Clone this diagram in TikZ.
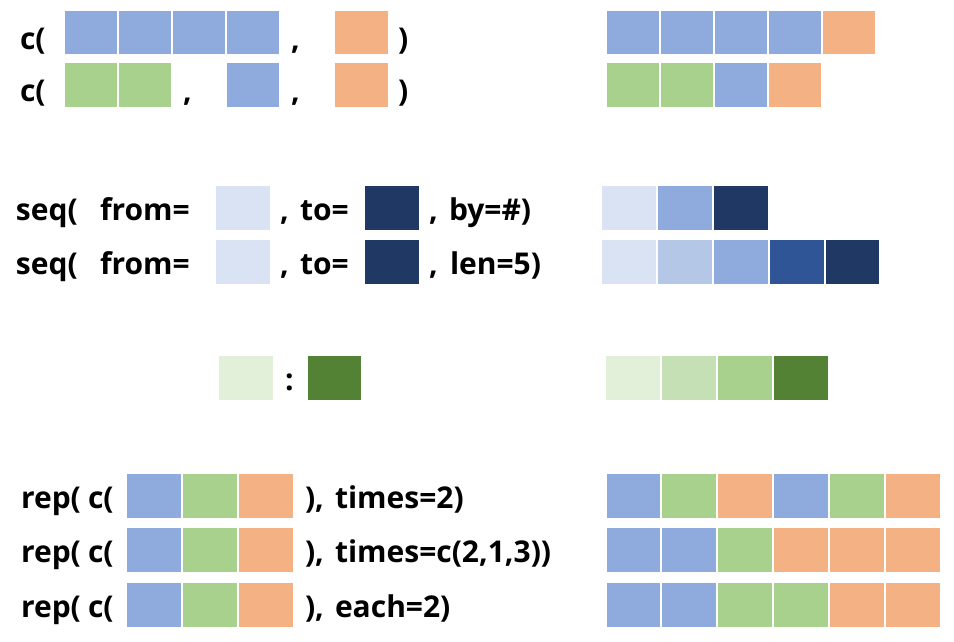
\documentclass[tikz,border=0pt]{standalone}
\usepackage{fontspec}
\setmainfont{Open Sans}
\newfontfamily\bfont[BoldFont={Open Sans Bold}]{Open Sans}
\definecolor{cblue}{HTML}{8FAADC}
\definecolor{cgreen}{HTML}{A9D18E}
\definecolor{corange}{HTML}{F4B183}
\definecolor{bone}{HTML}{DAE3F3}
\definecolor{btwo}{HTML}{B4C7E7}
\definecolor{bfour}{HTML}{2F5597}
\definecolor{bfive}{HTML}{203864}
\definecolor{gone}{HTML}{E2F0D9}
\definecolor{gtwo}{HTML}{C5E0B4}
\definecolor{gfour}{HTML}{548235}
\tikzset{
  cell/.style={anchor=north west, inner sep=0pt, outer sep=0pt, minimum height=44pt, minimum width=54pt},
  txt/.style={anchor=base west, inner sep=0pt, outer sep=0pt, font=\fontsize{30}{36}\selectfont\bfont\bfseries}
}
\begin{document}
\begin{tikzpicture}[x=1pt,y=-1pt]
\useasboundingbox (0,0) rectangle (954,641);
% ---- row 1: c( ----
\node[txt] (t1a) at (20,49) {c(};
\node[cell,minimum width=52pt,minimum height=43pt,fill=cblue] (a1) at (65,11) {};
\node[cell,minimum width=52pt,minimum height=43pt,fill=cblue] (a2) at (119,11) {};
\node[cell,minimum width=52pt,minimum height=43pt,fill=cblue] (a3) at (173,11) {};
\node[cell,minimum width=52pt,minimum height=43pt,fill=cblue] (a4) at (227,11) {};
\node[txt] (t1b) at (291,49) {,};
\node[cell,minimum width=53pt,minimum height=43pt,fill=corange] (a5) at (335,11) {};
\node[txt] (t1c) at (398,49) {)};
\node[cell,minimum width=52pt,minimum height=43pt,fill=cblue] (ra1) at (607,11) {};
\node[cell,minimum width=52pt,minimum height=43pt,fill=cblue] (ra2) at (661,11) {};
\node[cell,minimum width=52pt,minimum height=43pt,fill=cblue] (ra3) at (715,11) {};
\node[cell,minimum width=52pt,minimum height=43pt,fill=cblue] (ra4) at (769,11) {};
\node[cell,minimum width=52pt,minimum height=43pt,fill=corange] (ra5) at (823,11) {};
% ---- row 2: c( ----
\node[txt] (t2a) at (20,101) {c(};
\node[cell,minimum width=52pt,fill=cgreen] (b1) at (65,63) {};
\node[cell,minimum width=52pt,fill=cgreen] (b2) at (119,63) {};
\node[txt] (t2b) at (183,101) {,};
\node[cell,minimum width=52pt,fill=cblue] (b3) at (227,63) {};
\node[txt] (t2c) at (291,101) {,};
\node[cell,minimum width=53pt,fill=corange] (b4) at (335,63) {};
\node[txt] (t2d) at (398,101) {)};
\node[cell,minimum width=52pt,fill=cgreen] (rb1) at (607,63) {};
\node[cell,minimum width=52pt,fill=cgreen] (rb2) at (661,63) {};
\node[cell,minimum width=52pt,fill=cblue] (rb3) at (715,63) {};
\node[cell,minimum width=52pt,fill=corange] (rb4) at (769,63) {};
% ---- seq rows ----
\node[txt] (s1a) at (16,220) {seq(};
\node[txt] (s1b) at (100,220) {from=};
\node[cell,fill=bone] (c1) at (216,186) {};
\node[txt] (s1c) at (280,220) {,};
\node[txt] (s1e) at (300,220) {to=};
\node[cell,fill=bfive] (c2) at (365,186) {};
\node[txt] (s1d) at (429,220) {,};
\node[txt] (s1f) at (449,220) {by=\#)};
\node[cell,fill=bone] (rc1) at (602,186) {};
\node[cell,fill=cblue] (rc2) at (658,186) {};
\node[cell,fill=bfive] (rc3) at (714,186) {};
\node[txt] (s2a) at (16,274) {seq(};
\node[txt] (s2b) at (100,274) {from=};
\node[cell,fill=bone] (d1) at (216,240) {};
\node[txt] (s2c) at (280,274) {,};
\node[txt] (s2e) at (300,274) {to=};
\node[cell,fill=bfive] (d2) at (365,240) {};
\node[txt] (s2d) at (429,274) {,};
\node[txt] (s2f) at (450,274) {len=5)};
\node[cell,fill=bone] (rd1) at (602,240) {};
\node[cell,fill=btwo] (rd2) at (658,240) {};
\node[cell,fill=cblue] (rd3) at (714,240) {};
\node[cell,fill=bfour] (rd4) at (770,240) {};
\node[cell,minimum width=53pt,fill=bfive] (rd5) at (826,240) {};
% ---- colon row ----
\node[cell,fill=gone] (e1) at (219,356) {};
\node[txt] (ec) at (285,390) {:};
\node[cell,minimum width=53pt,fill=gfour] (e2) at (308,356) {};
\node[cell,fill=gone] (re1) at (606,356) {};
\node[cell,fill=gtwo] (re2) at (662,356) {};
\node[cell,fill=cgreen] (re3) at (718,356) {};
\node[cell,fill=gfour] (re4) at (774,356) {};
% ---- rep rows ----
\node[txt] (p1a) at (21,508) {rep(};
\node[txt] (p1b) at (88,508) {c(};
\node[cell,fill=cblue] (f1) at (127,474) {};
\node[cell,fill=cgreen] (f2) at (183,474) {};
\node[cell,fill=corange] (f3) at (239,474) {};
\node[txt] (p1c) at (305,508) {),};
\node[txt] (p1d) at (335,508) {times=2)};
\node[cell,minimum width=53pt,fill=cblue] (rf1) at (607,474) {};
\node[cell,fill=cgreen] (rf2) at (662,474) {};
\node[cell,fill=corange] (rf3) at (718,474) {};
\node[cell,fill=cblue] (rf4) at (774,474) {};
\node[cell,fill=cgreen] (rf5) at (830,474) {};
\node[cell,fill=corange] (rf6) at (886,474) {};
\node[txt] (p2a) at (21,562) {rep(};
\node[txt] (p2b) at (88,562) {c(};
\node[cell,fill=cblue] (g1) at (127,528) {};
\node[cell,fill=cgreen] (g2) at (183,528) {};
\node[cell,fill=corange] (g3) at (239,528) {};
\node[txt] (p2c) at (305,562) {),};
\node[txt] (p2d) at (335,562) {times=c(2,1,3))};
\node[cell,minimum width=53pt,fill=cblue] (rg1) at (607,528) {};
\node[cell,fill=cblue] (rg2) at (662,528) {};
\node[cell,fill=cgreen] (rg3) at (718,528) {};
\node[cell,fill=corange] (rg4) at (774,528) {};
\node[cell,fill=corange] (rg5) at (830,528) {};
\node[cell,fill=corange] (rg6) at (886,528) {};
\node[txt] (p3a) at (21,617) {rep(};
\node[txt] (p3b) at (88,617) {c(};
\node[cell,fill=cblue] (h1) at (127,583) {};
\node[cell,fill=cgreen] (h2) at (183,583) {};
\node[cell,fill=corange] (h3) at (239,583) {};
\node[txt] (p3c) at (305,617) {),};
\node[txt] (p3d) at (335,617) {each=2)};
\node[cell,minimum width=53pt,fill=cblue] (rh1) at (607,583) {};
\node[cell,fill=cblue] (rh2) at (662,583) {};
\node[cell,fill=cgreen] (rh3) at (718,583) {};
\node[cell,fill=cgreen] (rh4) at (774,583) {};
\node[cell,fill=corange] (rh5) at (830,583) {};
\node[cell,fill=corange] (rh6) at (886,583) {};
\end{tikzpicture}
\end{document}
